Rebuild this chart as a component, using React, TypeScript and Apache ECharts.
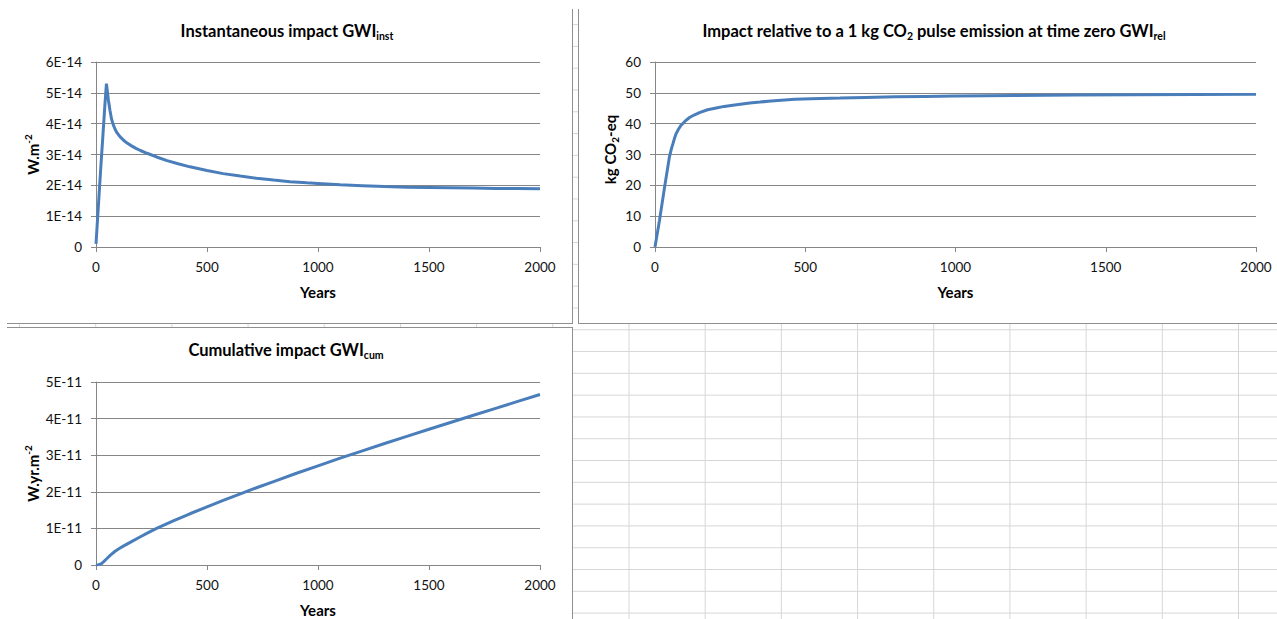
import React, { useEffect, useRef } from "react";
import * as echarts from "echarts";

// ---------- data ----------
// Instantaneous impact GWI_inst (values in units of 1E-14 W.m-2)
const instYears = [0, 10, 20, 30, 40, 47, 52, 56, 63, 70, 78, 86, 95, 108, 123, 140, 160, 180, 200, 230, 273, 320, 370, 423, 500, 573, 650, 723, 800, 874, 950, 1000, 1100, 1200, 1300, 1400, 1500, 1600, 1700, 1800, 1900, 2000];
const instValues = [0.1, 1.25, 2.4, 3.5, 4.6, 5.3, 5.0, 4.76, 4.43, 4.15, 3.96, 3.82, 3.7, 3.58, 3.47, 3.37, 3.28, 3.2, 3.13, 3.04, 2.92, 2.8, 2.7, 2.6, 2.48, 2.38, 2.3, 2.23, 2.17, 2.12, 2.08, 2.06, 2.02, 1.99, 1.96, 1.94, 1.93, 1.92, 1.91, 1.9, 1.9, 1.89];

// Impact relative to a 1 kg CO2 pulse GWI_rel (kg CO2-eq)
const relYears = [0, 15, 32, 48, 55, 60, 65, 70, 78, 87, 100, 115, 130, 148, 175, 204, 230, 259, 290, 315, 350, 376, 420, 466, 520, 616, 700, 800, 900, 1000, 1200, 1400, 1600, 1800, 2000];
const relValues = [0, 8.7, 19.5, 29.2, 32.0, 33.6, 35.3, 36.7, 38.2, 39.5, 40.8, 42.0, 42.8, 43.6, 44.5, 45.1, 45.6, 46.0, 46.4, 46.7, 47.0, 47.3, 47.6, 47.9, 48.1, 48.3, 48.5, 48.7, 48.85, 49.0, 49.15, 49.3, 49.4, 49.45, 49.5];

// Cumulative impact GWI_cum (values in units of 1E-11 W.yr.m-2)
const cumYears = [0, 12, 25, 36, 48, 65, 86, 105, 123, 160, 198, 235, 273, 348, 423, 500, 573, 650, 723, 800, 900, 1000, 1100, 1200, 1300, 1400, 1500, 1600, 1700, 1800, 1900, 2000];
const cumValues = [0, 0.01, 0.04, 0.1, 0.17, 0.27, 0.375, 0.45, 0.515, 0.64, 0.765, 0.885, 1.0, 1.205, 1.4, 1.59, 1.765, 1.945, 2.11, 2.28, 2.5, 2.71, 2.92, 3.12, 3.32, 3.515, 3.71, 3.9, 4.09, 4.28, 4.47, 4.66];

const xTickLabels = ["0", "500", "1000", "1500", "2000"];
const instTickLabels = ["0", "1E-14", "2E-14", "3E-14", "4E-14", "5E-14", "6E-14"];
const relTickLabels = ["0", "10", "20", "30", "40", "50", "60"];
const cumTickLabels = ["0", "1E-11", "2E-11", "3E-11", "4E-11", "5E-11"];

const FONT = "Lato, 'Open Sans', sans-serif";
const AXIS_GRAY = "#868686";
const LINE_BLUE = "#4a7ebb";

const boldRich = {
  m: { fontFamily: FONT, fontSize: 15, fontWeight: "bold", color: "#000", lineHeight: 20 },
  s: { fontFamily: FONT, fontSize: 10, fontWeight: "bold", color: "#000", lineHeight: 11, verticalAlign: "bottom" },
  p: { fontFamily: FONT, fontSize: 10, fontWeight: "bold", color: "#000", lineHeight: 11, verticalAlign: "top" },
};
const graphicRich = {
  m: { fontFamily: FONT, fontSize: 16.5, fontWeight: "bold", fill: "#000", lineHeight: 20 },
  s: { fontFamily: FONT, fontSize: 10.5, fontWeight: "bold", fill: "#000", lineHeight: 11, verticalAlign: "bottom" },
};

function makeX(gridIndex: number) {
  return {
    type: "value",
    gridIndex,
    min: 0,
    max: 2000,
    interval: 500,
    name: "Years",
    nameLocation: "middle",
    nameGap: 37,
    nameTextStyle: { fontFamily: FONT, fontSize: 15, fontWeight: "bold", color: "#000" },
    axisLine: { show: true, onZero: false, lineStyle: { color: AXIS_GRAY, width: 1 } },
    axisTick: { show: true, length: 5, inside: false, lineStyle: { color: AXIS_GRAY, width: 1 } },
    axisLabel: {
      show: true,
      margin: 13,
      fontFamily: FONT,
      fontSize: 13.5,
      color: "#111",
      formatter: (v: number, i: number) => xTickLabels[i] ?? String(v),
    },
    splitLine: { show: false },
  };
}

function makeY(gridIndex: number, max: number, labels: string[], name: string, nameGap: number, namePadding: number[]) {
  return {
    type: "value",
    gridIndex,
    min: 0,
    max,
    interval: max / (labels.length - 1),
    name,
    nameLocation: "middle",
    nameGap,
    nameRotate: 90,
    nameTextStyle: { rich: boldRich, padding: namePadding },
    axisLine: { show: true, lineStyle: { color: AXIS_GRAY, width: 1 } },
    axisTick: { show: true, length: 5, inside: false, lineStyle: { color: AXIS_GRAY, width: 1 } },
    axisLabel: {
      show: true,
      margin: 14,
      fontFamily: FONT,
      fontSize: 13.5,
      color: "#111",
      formatter: (v: number, i: number) => labels[i] ?? String(v),
    },
    splitLine: { show: true, lineStyle: { color: AXIS_GRAY, width: 1 } },
  };
}

function lineSeries(idx: number, xs: number[], ys: number[]) {
  return {
    type: "line",
    xAxisIndex: idx,
    yAxisIndex: idx,
    data: xs.map((x, i) => [x, ys[i]]),
    showSymbol: false,
    symbol: "none",
    smooth: false,
    silent: true,
    lineStyle: { color: LINE_BLUE, width: 3 },
    itemStyle: { color: LINE_BLUE },
  };
}

export default function App() {
  const ref = useRef<HTMLDivElement>(null);

  useEffect(() => {
    document.body.style.margin = "0";
    if (!ref.current) return;
    const chart = echarts.init(ref.current, null, { renderer: "svg" });
    const option: any = {
      animation: false,
      backgroundColor: "transparent",
      grid: [
        { left: 96, top: 62, width: 444, height: 185, outerBoundsMode: "none", containLabel: false },
        { left: 655, top: 62, width: 601, height: 185, outerBoundsMode: "none", containLabel: false },
        { left: 96, top: 382, width: 444, height: 183, outerBoundsMode: "none", containLabel: false },
      ],
      xAxis: [makeX(0), makeX(1), makeX(2)],
      yAxis: [
        makeY(0, 6, instTickLabels, "{m|W.m}{p|-2}", 53, [0, 0, 0, 0]),
        makeY(1, 60, relTickLabels, "{m|kg CO}{s|2}{m|-eq}", 35, [0, 0, 0, 10]),
        makeY(2, 5, cumTickLabels, "{m|W.yr.m}{p|-2}", 53, [0, 0, 0, 0]),
      ],
      series: [
        lineSeries(0, instYears, instValues),
        lineSeries(1, relYears, relValues),
        lineSeries(2, cumYears, cumValues),
      ],
      graphic: [
        {
          type: "text",
          x: 287,
          y: 31,
          silent: true,
          style: {
            text: "{m|Instantaneous impact GWI}{s|inst}",
            rich: graphicRich,
            align: "center",
            verticalAlign: "middle",
          },
        },
        {
          type: "text",
          x: 934,
          y: 31,
          silent: true,
          style: {
            text: "{m|Impact relative to a 1 kg CO}{s|2}{m| pulse emission at time zero GWI}{s|rel}",
            rich: graphicRich,
            align: "center",
            verticalAlign: "middle",
          },
        },
        {
          type: "text",
          x: 286,
          y: 350,
          silent: true,
          style: {
            text: "{m|Cumulative impact GWI}{s|cum}",
            rich: graphicRich,
            align: "center",
            verticalAlign: "middle",
          },
        },
      ],
    };
    chart.setOption(option);
    return () => chart.dispose();
  }, []);

  const frameBorder = "1px solid #8f8f8f";

  return (
    <div style={{ position: "relative", width: 1277, height: 619, overflow: "hidden", background: "#fff" }}>
      {/* spreadsheet cell grid behind the charts */}
      <div
        style={{
          position: "absolute",
          left: 7,
          top: 9,
          right: 0,
          bottom: 0,
          backgroundImage:
            "linear-gradient(to right, #d6d6d6 1px, transparent 1px), linear-gradient(to bottom, #d6d6d6 1px, transparent 1px)",
          backgroundSize: "76.2px 21.8px",
          backgroundPosition: "12px 15.1px",
        }}
      />
      {/* chart frames */}
      <div
        style={{
          position: "absolute",
          left: 7,
          top: 9,
          width: 566,
          height: 315,
          boxSizing: "border-box",
          background: "#fff",
          borderRight: frameBorder,
          borderBottom: frameBorder,
        }}
      />
      <div
        style={{
          position: "absolute",
          left: 578,
          top: 9,
          width: 720,
          height: 315,
          boxSizing: "border-box",
          background: "#fff",
          borderLeft: frameBorder,
          borderBottom: frameBorder,
        }}
      />
      <div
        style={{
          position: "absolute",
          left: 7,
          top: 327,
          width: 566,
          height: 300,
          boxSizing: "border-box",
          background: "#fff",
          borderTop: frameBorder,
          borderRight: frameBorder,
        }}
      />
      <div ref={ref} style={{ position: "absolute", left: 0, top: 0, width: 1277, height: 619 }} />
    </div>
  );
}
